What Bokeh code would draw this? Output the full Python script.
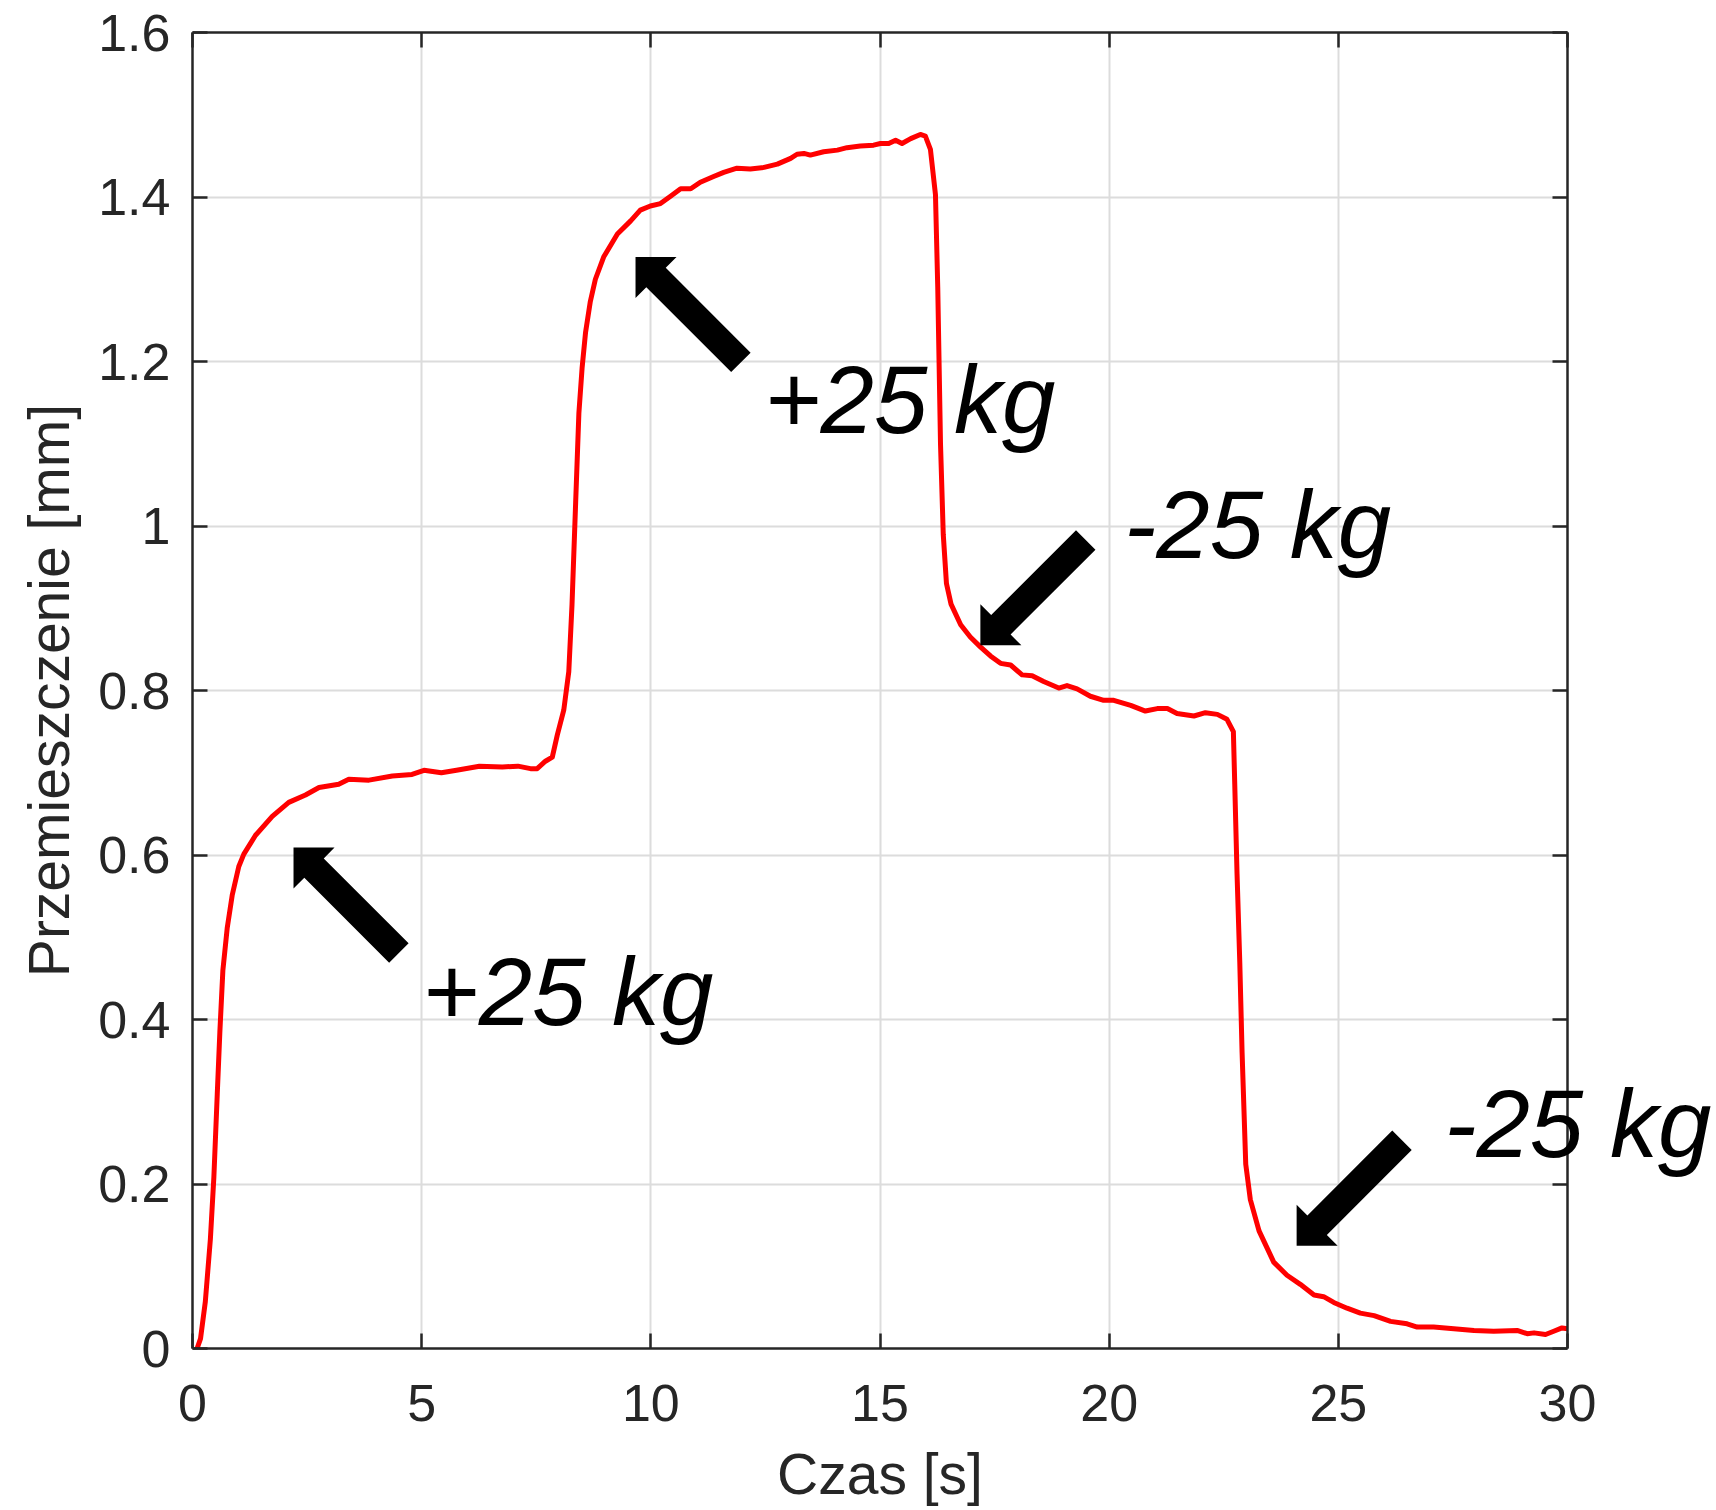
import math
from bokeh.plotting import figure
from bokeh.models import Range1d, LinearAxis, FixedTicker, CustomJSTickFormatter, Label
from bokeh.embed import file_html
from bokeh.resources import INLINE

# ---------------- data ----------------
time_s = [0.10, 0.175, 0.28, 0.39, 0.466, 0.54, 0.597, 0.663, 0.757, 0.866,
          1.01, 1.12, 1.375, 1.74, 2.10, 2.465, 2.76, 3.19, 3.41, 3.85,
          4.36, 4.79, 5.05, 5.43, 5.76, 6.26, 6.76, 7.10, 7.375, 7.52,
          7.70, 7.85, 7.96, 8.10, 8.21, 8.28, 8.36, 8.43, 8.50, 8.575,
          8.68, 8.79, 8.97, 9.27, 9.56, 9.77, 9.99, 10.21, 10.43, 10.65,
          10.87, 11.08, 11.37, 11.59, 11.88, 12.17, 12.47, 12.76, 13.05, 13.19,
          13.34, 13.48, 13.77, 14.07, 14.28, 14.57, 14.86, 15.01, 15.19, 15.34,
          15.48, 15.67, 15.88, 15.99, 16.10, 16.21, 16.26, 16.32, 16.38, 16.45,
          16.55, 16.76, 16.97, 17.19, 17.41, 17.63, 17.85, 18.10, 18.32, 18.57,
          18.90, 19.08, 19.30, 19.59, 19.88, 20.10, 20.47, 20.79, 21.05, 21.27,
          21.48, 21.85, 22.10, 22.36, 22.57, 22.71, 22.74, 22.79, 22.85, 22.90,
          22.98, 23.08, 23.27, 23.59, 23.88, 24.17, 24.47, 24.68, 24.90, 25.19,
          25.48, 25.78, 26.14, 26.50, 26.72, 27.08, 27.52, 27.96, 28.39, 28.90,
          29.12, 29.27, 29.52, 29.70, 29.88, 30.0]

displacement_mm = [0.0, 0.012, 0.057, 0.133, 0.208, 0.309, 0.385, 0.46, 0.511, 0.551,
                   0.586, 0.601, 0.624, 0.647, 0.664, 0.673, 0.682, 0.686, 0.692, 0.691,
                   0.696, 0.698, 0.703, 0.700, 0.703, 0.708, 0.707, 0.708, 0.705, 0.705,
                   0.714, 0.719, 0.746, 0.776, 0.823, 0.904, 1.029, 1.137, 1.192, 1.235,
                   1.273, 1.300, 1.327, 1.355, 1.371, 1.384, 1.389, 1.392, 1.401, 1.410,
                   1.410, 1.418, 1.425, 1.430, 1.435, 1.434, 1.436, 1.440, 1.447, 1.452,
                   1.453, 1.451, 1.455, 1.457, 1.460, 1.462, 1.463, 1.465, 1.465, 1.469,
                   1.465, 1.471, 1.476, 1.474, 1.458, 1.403, 1.29, 1.10, 0.99, 0.930,
                   0.905, 0.880, 0.865, 0.853, 0.842, 0.833, 0.831, 0.819, 0.818, 0.811,
                   0.803, 0.806, 0.802, 0.793, 0.788, 0.788, 0.782, 0.775, 0.778, 0.778,
                   0.772, 0.769, 0.773, 0.771, 0.765, 0.750, 0.686, 0.577, 0.469, 0.360,
                   0.224, 0.181, 0.143, 0.105, 0.089, 0.078, 0.065, 0.063, 0.056, 0.049,
                   0.043, 0.040, 0.033, 0.030, 0.026, 0.026, 0.024, 0.022, 0.021, 0.022,
                   0.018, 0.019, 0.017, 0.021, 0.025, 0.024]

x_ticks = [0, 5, 10, 15, 20, 25, 30]
y_ticks = [0, 0.2, 0.4, 0.6, 0.8, 1.0, 1.2, 1.4, 1.6]

x_label = "Czas [s]"
y_label = "Przemieszczenie [mm]"

# annotations inside the axes (baseline positions in data units)
annotation_texts = ["+25 kg", "+25 kg", "-25 kg"]
annotation_x = [5.02, 12.48, 20.33]
annotation_y = [0.393, 1.113, 0.9605]
# the last annotation runs past the right edge of the axes box
edge_annotation_text = "-25 kg"
edge_annotation_y = 0.273   # vertical centre of the text

arrow_tip_x = [2.204, 9.666, 17.19, 24.09]
arrow_tip_y = [0.609, 1.327, 0.855, 0.125]
arrow_tail_below = [True, True, False, False]

# ---------------- layout ----------------
X_MIN, X_MAX = 0, 30
Y_MIN, Y_MAX = 0, 1.6
FRAME_W, FRAME_H = 1375, 1316
AX_COLOR = "#262626"
FONT = "Liberation Sans"

p = figure(frame_width=FRAME_W, frame_height=FRAME_H,
           x_range=Range1d(X_MIN, X_MAX), y_range=Range1d(Y_MIN, Y_MAX),
           output_backend="svg", toolbar_location=None,
           min_border_left=192, min_border_top=32,
           min_border_right=149, min_border_bottom=162)
p.outline_line_color = None
p.background_fill_color = "white"
p.border_fill_color = "white"

fmt = CustomJSTickFormatter(code="return (Math.round(tick*10)/10).toString();")
blank = CustomJSTickFormatter(code="return '';")

def style_axis(ax, ticks, show_labels):
    ax.ticker = FixedTicker(ticks=ticks)
    ax.formatter = fmt if show_labels else blank
    ax.axis_line_color = AX_COLOR
    ax.axis_line_width = 2.5
    ax.major_tick_line_color = AX_COLOR
    ax.major_tick_line_width = 2.5
    ax.major_tick_in = 15
    ax.major_tick_out = 0
    ax.minor_tick_line_color = None
    ax.major_label_text_font = FONT
    ax.major_label_text_font_size = "52px" if show_labels else "1px"
    ax.major_label_text_color = AX_COLOR
    ax.axis_label_text_font = FONT
    ax.axis_label_text_font_size = "57px"
    ax.axis_label_text_font_style = "normal"
    ax.axis_label_text_color = AX_COLOR

style_axis(p.xaxis[0], x_ticks, True)
style_axis(p.yaxis[0], y_ticks, True)
p.xaxis[0].axis_label = x_label
p.yaxis[0].axis_label = y_label
p.xaxis[0].major_label_standoff = 36
p.xaxis[0].axis_label_standoff = 18
p.yaxis[0].major_label_standoff = 22
p.yaxis[0].axis_label_standoff = 14

top_ax = LinearAxis()
right_ax = LinearAxis()
style_axis(top_ax, x_ticks, False)
style_axis(right_ax, y_ticks, False)
top_ax.major_label_standoff = 0
right_ax.major_label_standoff = 0
p.add_layout(top_ax, "above")
p.add_layout(right_ax, "right")

# text that overhangs the right edge of the box: drawn as a tick label of an
# invisible right-hand axis so it is not clipped to the plotting frame
edge_ax = LinearAxis(ticker=FixedTicker(ticks=[edge_annotation_y]),
                     major_label_overrides={edge_annotation_y: edge_annotation_text})
edge_ax.axis_line_color = None
edge_ax.major_tick_line_color = None
edge_ax.minor_tick_line_color = None
edge_ax.major_tick_in = 0
edge_ax.major_tick_out = 0
edge_ax.major_label_standoff = -123
edge_ax.major_label_text_font = FONT
edge_ax.major_label_text_font_style = "italic"
edge_ax.major_label_text_font_size = "96px"
edge_ax.major_label_text_color = "black"
p.add_layout(edge_ax, "right")

p.xgrid.ticker = FixedTicker(ticks=x_ticks)
p.ygrid.ticker = FixedTicker(ticks=y_ticks)
for g in (p.xgrid, p.ygrid):
    g.grid_line_color = "#dcdcdc"
    g.grid_line_width = 2

# data curve
p.line(time_s, displacement_mm, line_color="#ff0000", line_width=5, line_join="round")

# block arrows (shape defined in pixels, converted to data units)
px_per_x = FRAME_W / (X_MAX - X_MIN)
px_per_y = FRAME_H / (Y_MAX - Y_MIN)
L_ARROW, HEAD_L, HEAD_HW, SHAFT_HW = 149, 29, 29, 13.75
xs_all, ys_all = [], []
for tx, ty, below in zip(arrow_tip_x, arrow_tip_y, arrow_tail_below):
    ux = 1 / math.sqrt(2)
    uy = (1 if below else -1) / math.sqrt(2)   # screen y grows downward
    vx, vy = -uy, ux
    pts = [(0, 0),
           (HEAD_L * ux + HEAD_HW * vx, HEAD_L * uy + HEAD_HW * vy),
           (HEAD_L * ux + SHAFT_HW * vx, HEAD_L * uy + SHAFT_HW * vy),
           (L_ARROW * ux + SHAFT_HW * vx, L_ARROW * uy + SHAFT_HW * vy),
           (L_ARROW * ux - SHAFT_HW * vx, L_ARROW * uy - SHAFT_HW * vy),
           (HEAD_L * ux - SHAFT_HW * vx, HEAD_L * uy - SHAFT_HW * vy),
           (HEAD_L * ux - HEAD_HW * vx, HEAD_L * uy - HEAD_HW * vy)]
    xs_all.append([tx + a / px_per_x for a, b in pts])
    ys_all.append([ty - b / px_per_y for a, b in pts])
p.patches(xs_all, ys_all, fill_color="black", line_color=None)

for txt, ax_, ay_ in zip(annotation_texts, annotation_x, annotation_y):
    p.add_layout(Label(x=ax_, y=ay_, y_offset=34, text=txt, text_font=FONT,
                       text_font_style="italic", text_font_size="96px",
                       text_color="black", text_align="left",
                       text_baseline="alphabetic"))

open("out.html", "w").write(file_html(p, INLINE))
